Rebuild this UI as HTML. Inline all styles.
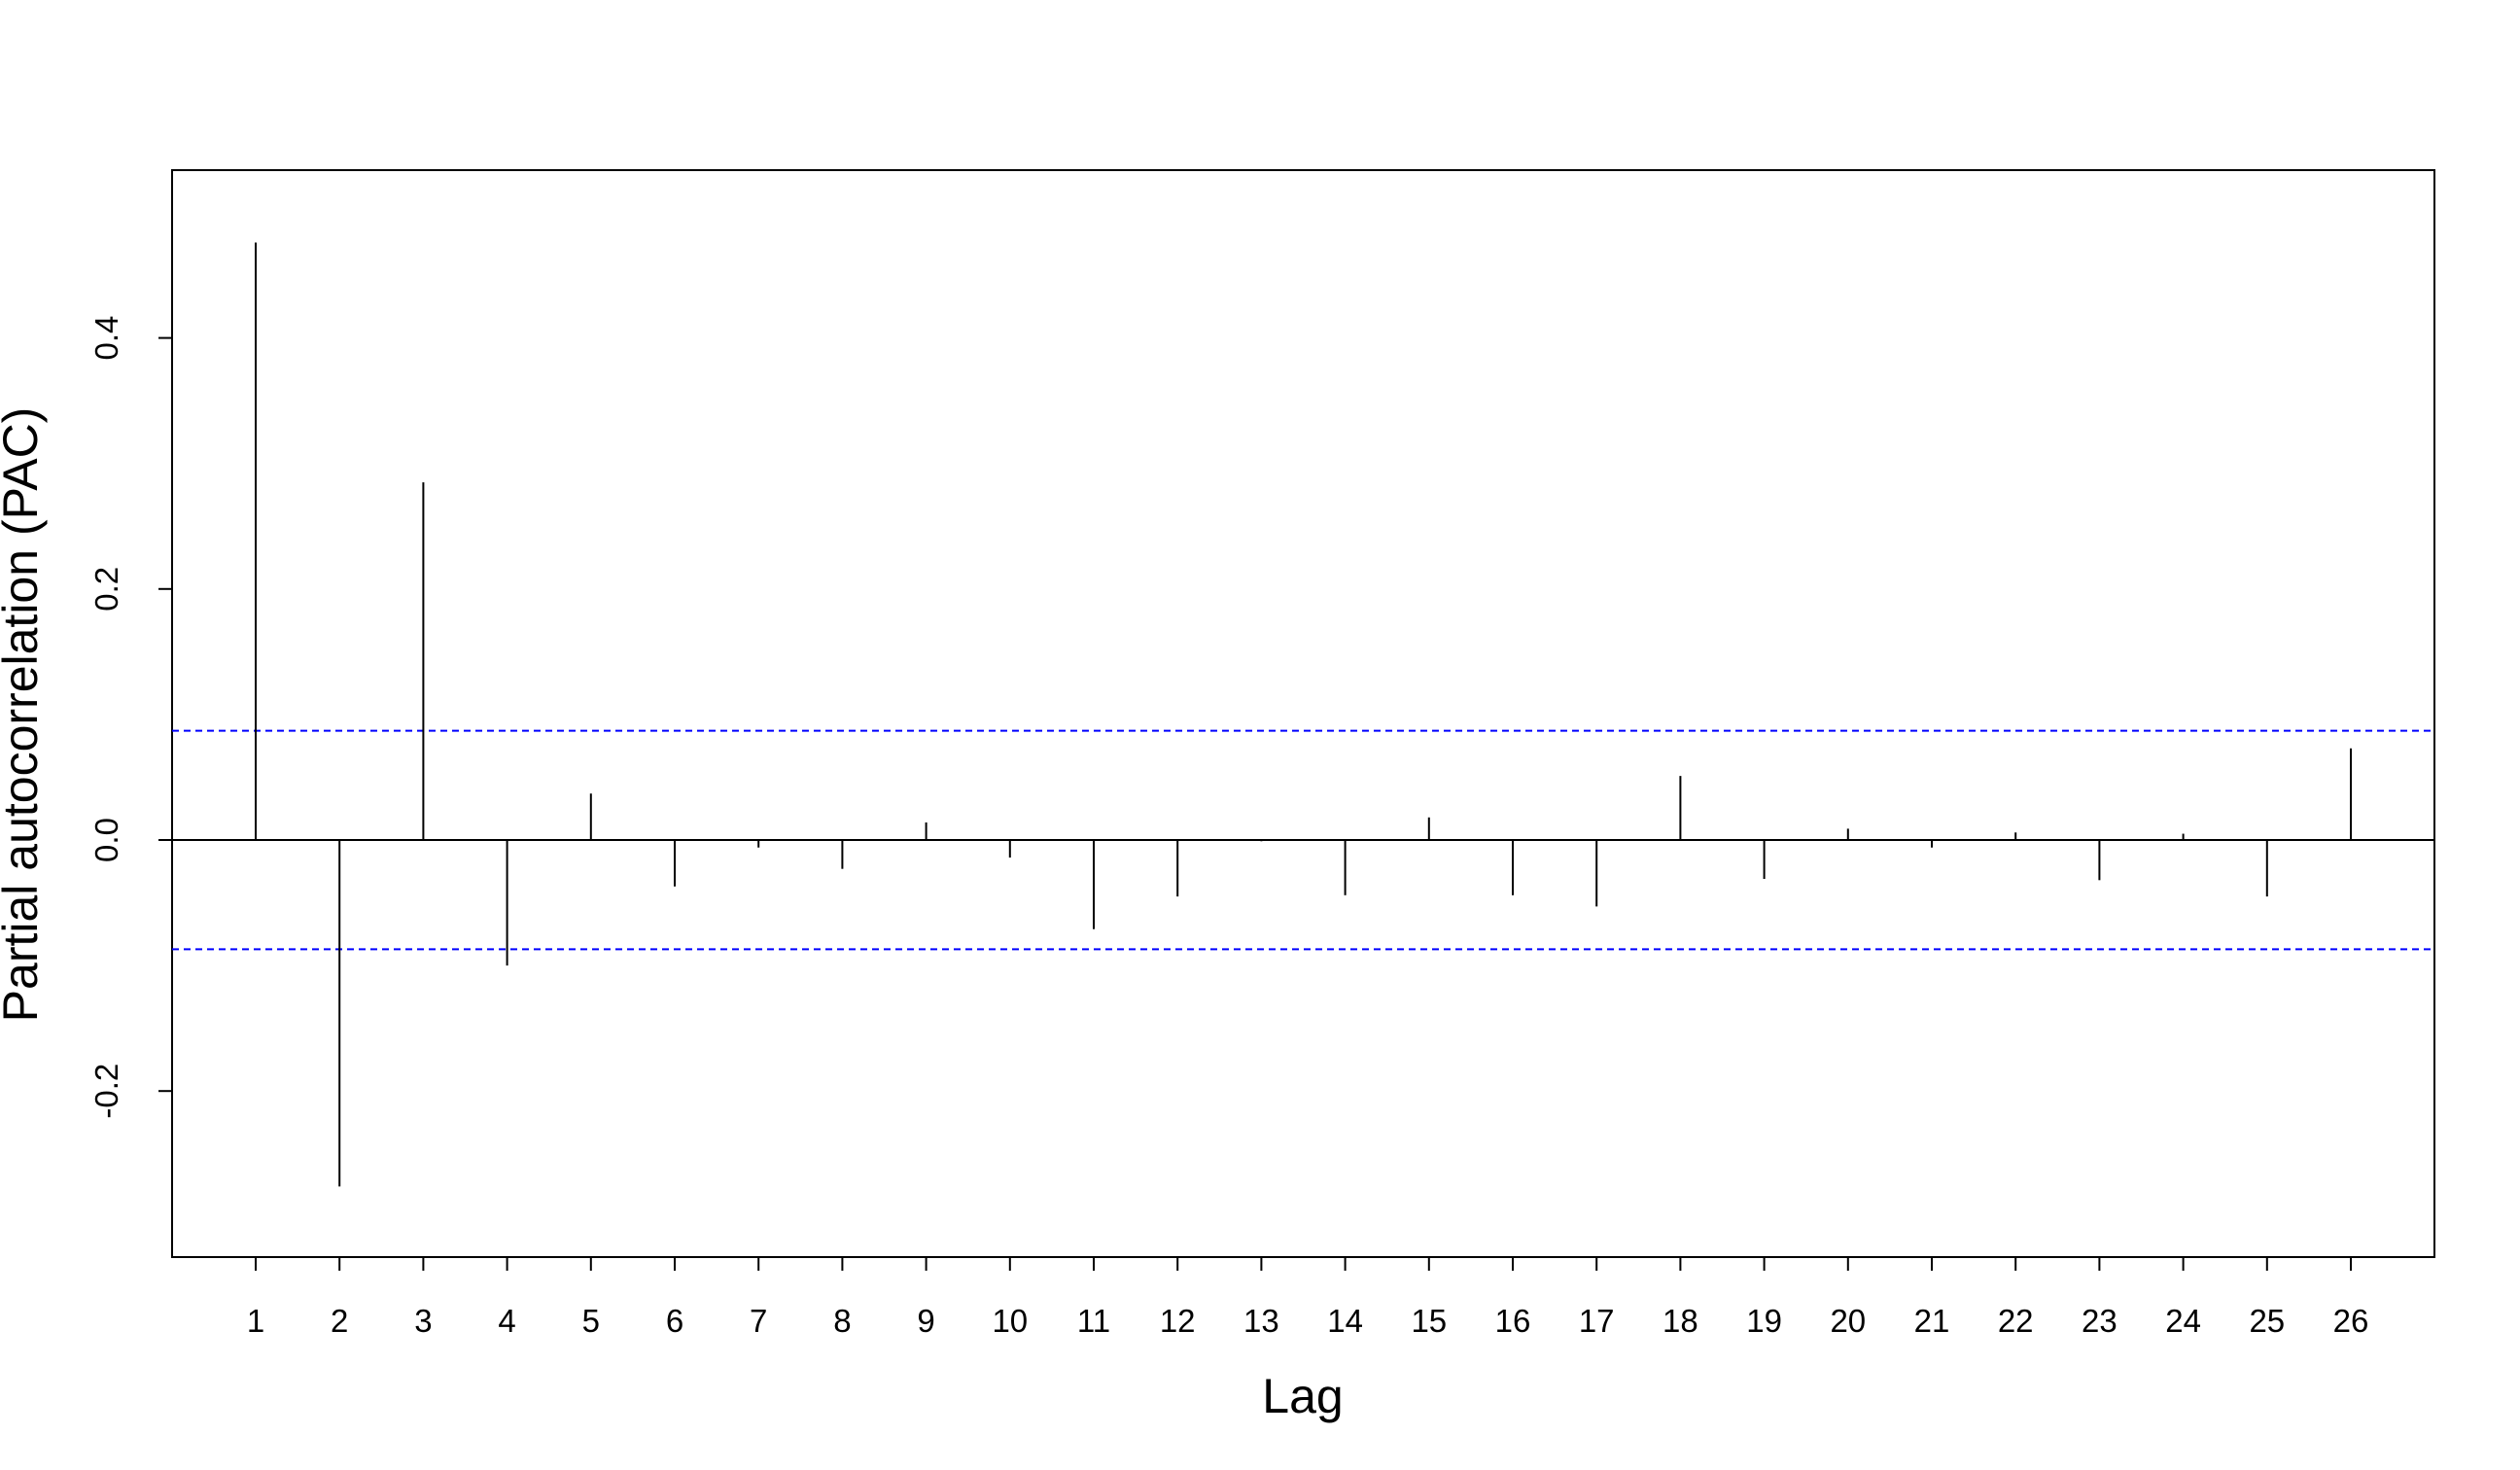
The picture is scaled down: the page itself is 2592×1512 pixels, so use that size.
<!DOCTYPE html>
<html><head><meta charset="utf-8"><style>
html,body{margin:0;padding:0;background:#fff;}
svg{display:block;}
text{font-family:"Liberation Sans",Arial,sans-serif;fill:#000;}
</style></head><body>
<svg id="chart" width="2592" height="1512" viewBox="0 0 2592 1512" xmlns="http://www.w3.org/2000/svg">
<rect x="177" y="175" width="2327" height="1118" fill="none" stroke="#000" stroke-width="2"/>
<g id="marks"></g>
<text x="1340" y="1453" font-size="50" text-anchor="middle">Lag</text>
<text transform="translate(38,735) rotate(-90)" font-size="50" text-anchor="middle">Partial autocorrelation (PAC)</text>
</svg>
<script>
const lags = [1,2,3,4,5,6,7,8,9,10,11,12,13,14,15,16,17,18,19,20,21,22,23,24,25,26];
const pacValues = [0.476,-0.276,0.285,-0.100,0.037,-0.037,-0.006,-0.023,0.014,-0.014,-0.071,-0.045,-0.001,-0.044,0.018,-0.044,-0.053,0.051,-0.031,0.009,-0.006,0.006,-0.032,0.005,-0.045,0.073];
const yTicks = [-0.2,0.0,0.2,0.4];
const yTickLabels = ["-0.2","0.0","0.2","0.4"];
const ciBound = 0.087;

const L=177,R=2504,T=175,B=1293;
const xScale = v => 263 + (v-1)*(2418-263)/25;
const yScale = v => 864 - v*(258.2/0.2);
const ns="http://www.w3.org/2000/svg";
const g=document.getElementById('marks');
function mk(tag,attrs){const e=document.createElementNS(ns,tag);for(const k in attrs)e.setAttribute(k,attrs[k]);g.appendChild(e);return e;}

let z=mk('line',{x1:L,x2:R,y1:yScale(0),y2:yScale(0),stroke:'#000','stroke-width':2});


[ciBound,-ciBound].forEach((c,i)=>{
  const l=mk('line',{x1:L,x2:R,y1:yScale(c),y2:yScale(c),stroke:'#0000ff','stroke-width':2,'stroke-dasharray':'7,5'});
  
  
});
lags.forEach((lag,i)=>{
  const b=mk('line',{x1:xScale(lag),x2:xScale(lag),y1:yScale(0),y2:yScale(pacValues[i]),stroke:'#000','stroke-width':2});
  
  
  const t=mk('line',{x1:xScale(lag),x2:xScale(lag),y1:B,y2:B+14,stroke:'#000','stroke-width':2});
  
  
  const tx=mk('text',{x:xScale(lag),y:B+77,'font-size':33,'text-anchor':'middle'});
  tx.textContent=lag;
  
  
});
yTicks.forEach((v,i)=>{
  const t=mk('line',{x1:L-14,x2:L,y1:yScale(v),y2:yScale(v),stroke:'#000','stroke-width':2});
  
  
  const tx=mk('text',{transform:`translate(${L-56},${yScale(v)}) rotate(-90)`,'font-size':33,'text-anchor':'middle'});
  tx.textContent=yTickLabels[i];
  
  
});
</script>
</body></html>
